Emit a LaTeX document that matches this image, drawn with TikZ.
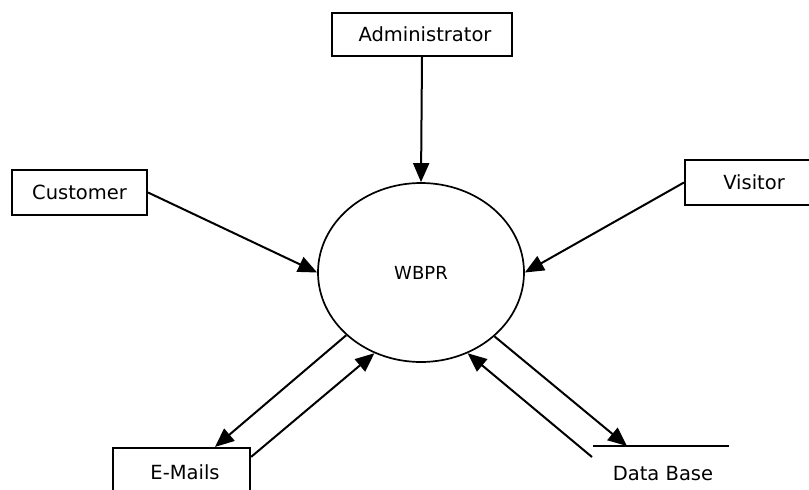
\documentclass[tikz,border=0pt]{standalone}
\usepackage{fontspec}
\setmainfont{DejaVu Sans}
\usetikzlibrary{arrows.meta,calc,shapes.geometric}
\tikzset{
  entity/.style={draw, line width=2.1pt, inner sep=0pt, text height=14.2pt, text depth=0pt, font=\fontsize{19.5}{22}\selectfont},
  proc/.style={draw, ellipse, line width=1.7pt, inner sep=0pt, minimum width=206pt, minimum height=179pt, text height=13.1pt, text depth=0pt, font=\fontsize{18}{21}\selectfont},
  lbl/.style={inner sep=0pt, text height=14.2pt, text depth=0pt, font=\fontsize{19.5}{22}\selectfont},
  flow/.style={line width=2pt, -{Triangle[length=19pt,width=16pt]}},
  storeline/.style={line width=2.1pt}
}
\begin{document}
\begin{tikzpicture}[x=1pt,y=-1pt]
\fill[white] (0,0) rectangle (809,490);
\clip (0,0) rectangle (809,490);
\node[entity, minimum width=180pt, minimum height=43pt] (admin) at (422,34.5) {\hspace*{6pt}Administrator};
\node[entity, minimum width=135pt, minimum height=45pt] (customer) at (79.5,192.5) {Customer};
\node[entity, minimum width=138pt, minimum height=45pt] (visitor) at (754,182.5) {Visitor};
\node[entity, minimum width=137pt, minimum height=48pt] (emails) at (181.5,472) {\hspace*{7pt}E-Mails};
\node[proc] (wbpr) at (421,272.5) {WBPR};
\coordinate (dbL) at (593,446);
\coordinate (dbR) at (729,446);
\draw[storeline] (dbL) -- (dbR);
\node[lbl] (db) at (663,473) {Data Base};
\draw[flow] (admin.south) -- (wbpr.north);
\draw[flow] (customer.east) -- (wbpr.west);
\draw[flow] (visitor.west) -- (wbpr.east);
\draw[flow] (wbpr.220.6) -- ([xshift=33.5pt]emails.north);
\draw[flow] ($(emails.north east)+(0,10)$) -- (wbpr.240.3);
\draw[flow] (wbpr.319.8) -- ($(dbL)!0.25!(dbR)$);
\draw[flow] ($(dbL)+(-1,11)$) -- (wbpr.300.1);
\end{tikzpicture}
\end{document}
